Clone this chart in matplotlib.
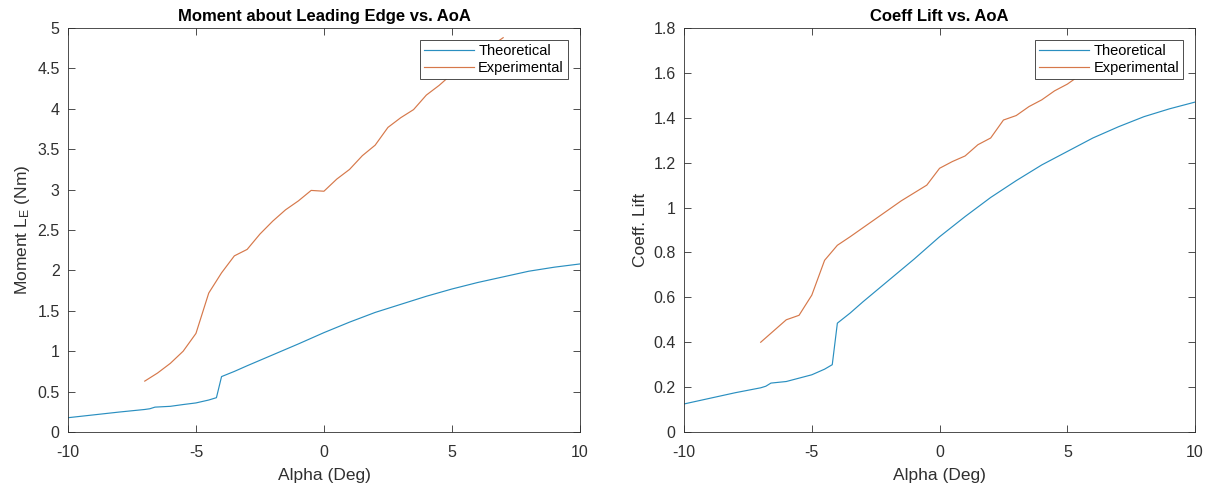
import numpy as np
import matplotlib
matplotlib.use("Agg")
import matplotlib.pyplot as plt
from matplotlib.ticker import FuncFormatter

# theoretical curve
alpha_th = [-10, -9, -8, -7, -6.8, -6.6, -6, -5.5, -5, -4.5, -4.2, -4.0, -3.5, -3,
            -2, -1, 0, 1, 2, 3, 4, 5, 6, 7, 8, 9, 10]
moment_th = [0.177, 0.212, 0.247, 0.279, 0.288, 0.308, 0.318, 0.34, 0.36, 0.396, 0.425,
             0.686, 0.75, 0.82, 0.955, 1.09, 1.23, 1.36, 1.48, 1.58, 1.68, 1.77, 1.85,
             1.92, 1.99, 2.04, 2.08]
cl_th = [0.125, 0.15, 0.175, 0.197, 0.204, 0.218, 0.225, 0.24, 0.255, 0.28, 0.30,
         0.485, 0.53, 0.58, 0.675, 0.77, 0.87, 0.96, 1.045, 1.12, 1.19, 1.25, 1.31,
         1.36, 1.405, 1.44, 1.47]

# experimental data, 0.5 deg steps
alpha_exp = [-7, -6.5, -6, -5.5, -5, -4.5, -4, -3.5, -3, -2.5, -2, -1.5, -1, -0.5, 0,
             0.5, 1, 1.5, 2, 2.5, 3, 3.5, 4, 4.5, 5, 5.5, 6, 6.5, 7]
moment_exp = [0.63, 0.73, 0.85, 1.0, 1.22, 1.72, 1.97, 2.18, 2.26, 2.45, 2.61, 2.75,
              2.86, 2.99, 2.98, 3.13, 3.25, 3.42, 3.55, 3.77, 3.89, 3.99, 4.17, 4.29,
              4.43, 4.55, 4.66, 4.77, 4.88]
cl_exp = [0.40, 0.45, 0.50, 0.52, 0.61, 0.765, 0.832, 0.87, 0.91, 0.95, 0.99, 1.03,
          1.065, 1.10, 1.175, 1.205, 1.23, 1.28, 1.31, 1.39, 1.41, 1.45, 1.48, 1.52,
          1.55, 1.59, 1.62, 1.65, 1.68]

plt.rcParams['font.family'] = ['Liberation Sans', 'DejaVu Sans']
plt.rcParams['mathtext.fontset'] = 'custom'
plt.rcParams['mathtext.rm'] = 'Liberation Sans'
plt.rcParams['mathtext.it'] = 'Liberation Sans'

BLUE = '#2a8fc0'
ORANGE = '#d6784a'
GREY = '#303030'

fig = plt.figure(figsize=(12.09, 4.87), dpi=100)
ax1 = fig.add_axes([0.0562, 0.1129, 0.4235, 0.8296])
ax2 = fig.add_axes([0.5658, 0.1129, 0.4227, 0.8296])


def style(ax, ymax, ystep):
    ax.set_xlim(-10, 10)
    ax.set_ylim(0, ymax)
    ax.set_xticks([-10, -5, 0, 5, 10])
    ax.set_yticks(np.arange(0, ymax + 1e-9, ystep))
    ax.yaxis.set_major_formatter(FuncFormatter(lambda v, p: '%g' % round(v, 2)))
    ax.xaxis.set_major_formatter(FuncFormatter(lambda v, p: '%g' % v))
    ax.tick_params(direction='in', top=True, right=True, length=5, width=0.6,
                   colors=GREY, labelsize=11.5, labelcolor=GREY)
    ax.tick_params(axis='x', pad=9)
    ax.tick_params(axis='y', pad=6)
    for s in ax.spines.values():
        s.set_color(GREY)
        s.set_linewidth(0.6)
    ax.set_xlabel('Alpha (Deg)', fontsize=12.5, color=GREY, labelpad=6)
    leg = ax.legend(loc='upper right', fontsize=10.5, handlelength=3.4, fancybox=False,
                    framealpha=1, borderpad=0.3, labelspacing=0.2, handletextpad=0.3,
                    borderaxespad=0.8)
    leg.get_frame().set_edgecolor(GREY)
    leg.get_frame().set_linewidth(0.6)


ax1.plot(alpha_th, moment_th, color=BLUE, lw=0.85, label='Theoretical')
ax1.plot(alpha_exp, moment_exp, color=ORANGE, lw=0.85, label='Experimental')
style(ax1, 5, 0.5)
ax1.set_ylabel('Moment L$_\\mathrm{E}$ (Nm)', fontsize=12.5, color=GREY)
ax1.set_title('Moment about Leading Edge vs. AoA', fontsize=12, fontweight='bold', pad=5)

ax2.plot(alpha_th, cl_th, color=BLUE, lw=0.85, label='Theoretical')
ax2.plot(alpha_exp, cl_exp, color=ORANGE, lw=0.85, label='Experimental')
style(ax2, 1.8, 0.2)
ax2.set_ylabel('Coeff. Lift', fontsize=12.5, color=GREY)
ax2.set_title('Coeff Lift vs. AoA', fontsize=12, fontweight='bold', pad=5)

plt.savefig('out.png', dpi=100)
